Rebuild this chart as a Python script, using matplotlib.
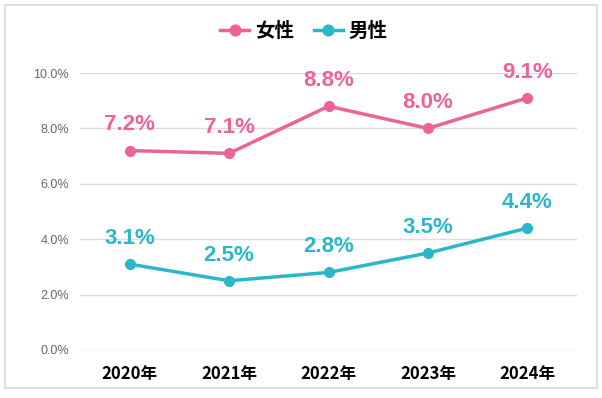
import matplotlib
matplotlib.use("Agg")
import matplotlib.pyplot as plt
from matplotlib.patches import Rectangle

plt.rcParams['font.family'] = ['Noto Sans CJK JP', 'DejaVu Sans']

years = ['2020年', '2021年', '2022年', '2023年', '2024年']
female = [7.2, 7.1, 8.8, 8.0, 9.1]
male = [3.1, 2.5, 2.8, 3.5, 4.4]
yticks = [0, 2, 4, 6, 8, 10]

pink = '#EA6497'
teal = '#2BB7C9'

fig = plt.figure(figsize=(6.02, 3.98), dpi=100)
ax = fig.add_axes([80 / 602, 1 - 350 / 398, 497 / 602, 277 / 398])

x = [i + 0.5 for i in range(len(years))]
ax.plot(x, female, color=pink, lw=2.5, marker='o', ms=7, label='女性')
ax.plot(x, male, color=teal, lw=2.5, marker='o', ms=7, label='男性')

for xi, v in zip(x, female):
    ax.text(xi, v + 0.55, f'{v:.1f}%', ha='center', va='bottom', color=pink,
            fontsize=16, fontweight='bold', family=['Liberation Sans', 'DejaVu Sans'])
for xi, v in zip(x, male):
    ax.text(xi, v + 0.55, f'{v:.1f}%', ha='center', va='bottom', color=teal,
            fontsize=16, fontweight='bold', family=['Liberation Sans', 'DejaVu Sans'])

ax.set_xlim(0, 5)
ax.set_ylim(0, 10)
ax.set_yticks(yticks)
ax.set_yticklabels([f'{t:.1f}%' for t in yticks], color='#666666', fontsize=9,
                   family=['Liberation Sans', 'DejaVu Sans'])
ax.set_xticks(x)
ax.set_xticklabels(years, fontsize=12, fontweight='bold')
ax.tick_params(length=0, pad=8)
ax.tick_params(axis='x', pad=11)
ax.grid(axis='y', color='#dddddd', lw=1)
ax.set_axisbelow(True)
for s in ax.spines.values():
    s.set_visible(False)

leg = fig.legend(loc='upper center', bbox_to_anchor=(0.505, 0.99), ncol=2, frameon=False,
                 prop={'weight': 'bold', 'size': 14}, handlelength=1.5, columnspacing=1.0,
                 handletextpad=0.3, markerscale=1.1)

fig.patches.append(Rectangle((5 / 602, 1 - 388 / 398), 592 / 602, 383 / 398,
                             transform=fig.transFigure, fill=False, ec='#d9d9d9', lw=1.2))

fig.savefig('out.png', dpi=100)
